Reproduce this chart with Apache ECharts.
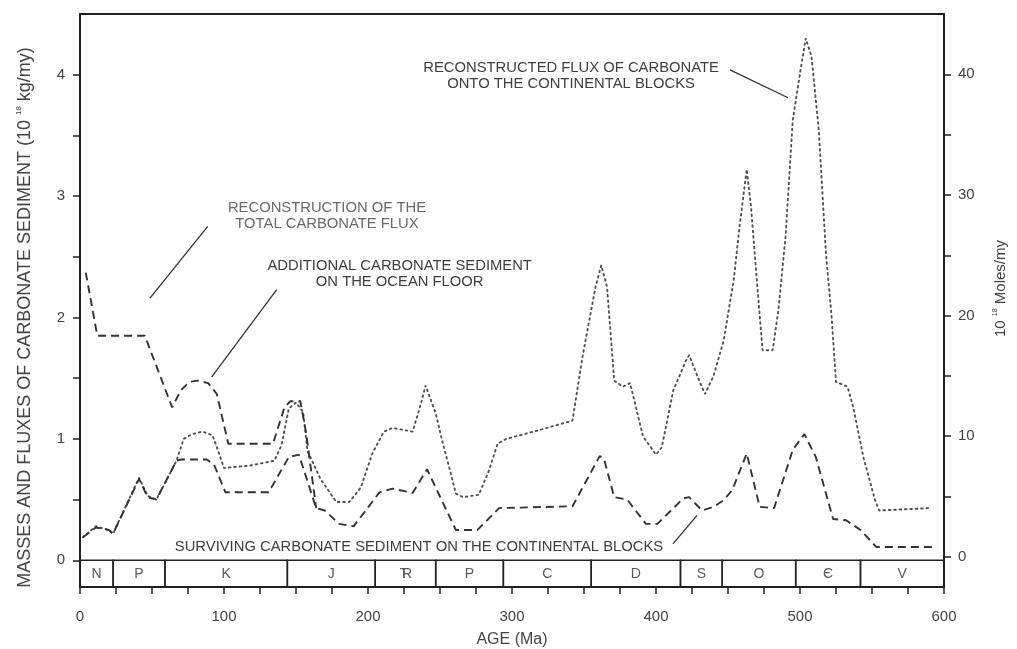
<!DOCTYPE html>
<html>
<head>
<meta charset="utf-8">
<script src="https://cdn.jsdelivr.net/npm/echarts@6/dist/echarts.min.js"></script>
<style>
  html, body { margin: 0; padding: 0; background: #fff; }
  #chart { width: 1017px; height: 649px; }
</style>
</head>
<body>
<div id="chart"></div>
<script>
// Age in Ma, values in 10^18 kg/my
const survivingOnContinents = [
  [2,0.19],[11,0.27],[20,0.25],[23,0.22],[41,0.67],[47,0.52],[53,0.50],[67,0.82],[70,0.83],
  [88,0.83],[93,0.79],[101,0.56],[131,0.56],[145,0.85],[152,0.87],[164,0.43],[170,0.41],
  [180,0.30],[190,0.28],[208,0.56],[217,0.59],[231,0.555],[241,0.75],[261,0.25],[276,0.25],
  [291,0.43],[342,0.445],[361,0.86],[364,0.83],[371,0.52],[380,0.50],[393,0.30],[401,0.30],
  [419,0.51],[423,0.52],[432,0.41],[440,0.44],[447,0.495],[453,0.58],[463,0.88],[472,0.44],
  [482,0.43],[495,0.91],[503,1.04],[511,0.85],[523,0.34],[532,0.33],[542,0.25],[553,0.11],[595,0.11]
];

const totalCarbonateFlux = [
  [4,2.37],[12,1.85],[45,1.85],[64,1.26],[70,1.40],[76,1.47],[82,1.48],[89,1.46],[95,1.37],
  [103,0.96],[134,0.96],[142,1.26],[146,1.31],[153,1.31],[157,1.05],[164,0.43]
];

const continentalFlux = [
  [2,0.19],[11,0.28],[20,0.25],[23,0.22],[41,0.68],[47,0.53],[53,0.50],[67,0.82],[72,1.00],
  [78,1.04],[85,1.06],[92,1.03],[96,0.90],[100,0.76],[118,0.78],[135,0.82],[140,0.95],
  [145,1.25],[150,1.30],[155,1.22],[158,0.90],[167,0.67],[178,0.48],[187,0.48],[195,0.60],
  [203,0.88],[211,1.06],[217,1.09],[231,1.06],[237,1.30],[240,1.44],[247,1.21],[252,0.96],
  [257,0.74],[261,0.55],[266,0.52],[277,0.54],[284,0.74],[290,0.96],[296,1.00],[315,1.06],
  [342,1.15],[349,1.68],[358,2.25],[362,2.43],[366,2.25],[371,1.48],[377,1.43],[382,1.46],
  [391,1.02],[400,0.87],[404,0.93],[412,1.40],[421,1.65],[423,1.69],[430,1.48],[434,1.37],
  [440,1.52],[447,1.81],[454,2.31],[458,2.75],[463,3.22],[466,2.91],[470,2.31],[474,1.73],
  [481,1.73],[485,2.06],[490,2.67],[495,3.63],[500,4.01],[504,4.30],[508,4.15],[513,3.55],
  [518,2.53],[522,2.00],[525,1.47],[533,1.43],[537,1.26],[544,0.85],[552,0.50],[555,0.41],[590,0.43]
];

// Geological periods (Ma)
const periodNames = ['N','P','K','J','TR','P','C','D','S','O','Є','V'];
const periodStart = [0,23,59,144,205,247,294,355,417,446,497,542];
const periodEnd   = [23,59,144,205,247,294,355,417,446,497,542,600];

// Axis ticks
const leftTicks = [0,0.5,1,1.5,2,2.5,3,3.5,4];
const leftLabels = [0,1,2,3,4];
const rightTicks = [0,5,10,15,20,25,30,35,40];
const rightLabels = [0,10,20,30,40];

const FONT = '"Liberation Sans", Arial, Helvetica, sans-serif';
const LEFT_MIN = -0.22, LEFT_MAX = 4.5;

// Annotation layout, in data coordinates (age, value)
const notes = [
  { text: 'RECONSTRUCTED FLUX OF CARBONATE\nONTO THE CONTINENTAL BLOCKS', at: [341, 3.99],
    from: [451.4, 4.04], to: [491.7, 3.81], color: '#3e3e3e' },
  { text: 'RECONSTRUCTION OF THE\nTOTAL CARBONATE FLUX', at: [171.5, 2.84],
    from: [88.7, 2.75], to: [48.6, 2.16], color: '#6a6a6a' },
  { text: 'ADDITIONAL CARBONATE SEDIMENT\nON THE OCEAN FLOOR', at: [222, 2.36],
    from: [136.6, 2.23], to: [91.5, 1.51], color: '#3e3e3e' },
  { text: 'SURVIVING CARBONATE SEDIMENT ON THE CONTINENTAL BLOCKS', at: [235.4, 0.11],
    from: [411.8, 0.135], to: [428.5, 0.37], color: '#3e3e3e' }
];

const chart = echarts.init(document.getElementById('chart'), null, { renderer: 'canvas' });

const option = {
  backgroundColor: '#ffffff',
  animation: false,
  grid: {
    left: 80, right: 73, top: 14, bottom: 62,
    outerBoundsMode: 'none', containLabel: false,
    show: true, borderColor: '#222', borderWidth: 1.8, backgroundColor: 'transparent'
  },
  xAxis: {
    type: 'value', min: 0, max: 600, interval: 25,
    axisLine: { show: true, onZero: false, lineStyle: { color: '#222', width: 2 } },
    axisTick: { show: true, inside: false, length: 7, lineStyle: { color: '#222', width: 1.5 } },
    axisLabel: {
      formatter: v => (v % 100 === 0 ? String(v) : ''),
      fontSize: 15, color: '#444', margin: 22, fontFamily: FONT
    },
    splitLine: { show: false },
    name: 'AGE (Ma)', nameLocation: 'middle', nameGap: 45,
    nameTextStyle: { fontSize: 16, color: '#444', fontFamily: FONT }
  },
  yAxis: [
    {
      type: 'value', min: LEFT_MIN, max: LEFT_MAX, position: 'left',
      axisLine: { show: true, onZero: false, lineStyle: { color: '#222', width: 2 } },
      axisTick: { show: true, length: 7, customValues: leftTicks, lineStyle: { color: '#222', width: 1.5 } },
      axisLabel: { customValues: leftLabels, fontSize: 15, color: '#444', margin: 15, fontFamily: FONT },
      splitLine: { show: false },
      name: '{a|MASSES AND FLUXES OF CARBONATE SEDIMENT (10 }{s|18}{a| kg/my)}',
      nameLocation: 'middle', nameGap: 45,
      nameTextStyle: {
        color: '#444', fontFamily: FONT, padding: [0, 34, 0, 0],
        rich: {
          a: { fontSize: 18, color: '#444', fontFamily: FONT, lineHeight: 20 },
          s: { fontSize: 8, color: '#444', fontFamily: FONT, verticalAlign: 'top', lineHeight: 20 }
        }
      }
    },
    {
      type: 'value', min: -2.5, max: 45, position: 'right',
      axisLine: { show: true, onZero: false, lineStyle: { color: '#222', width: 2 } },
      axisTick: { show: true, length: 7, customValues: rightTicks, lineStyle: { color: '#222', width: 1.5 } },
      axisLabel: { customValues: rightLabels, fontSize: 15, color: '#444', margin: 14, fontFamily: FONT },
      splitLine: { show: false },
      name: '{a|10 }{s|18}{a| Moles/my}',
      nameLocation: 'middle', nameGap: 48,
      nameTextStyle: {
        color: '#444', fontFamily: FONT, padding: [0, 0, 0, 24],
        rich: {
          a: { fontSize: 15, color: '#444', fontFamily: FONT, lineHeight: 18 },
          s: { fontSize: 7, color: '#444', fontFamily: FONT, verticalAlign: 'top', lineHeight: 18 }
        }
      }
    }
  ],
  series: [
    {
      name: 'Reconstructed flux onto the continental blocks',
      type: 'line', data: continentalFlux, symbol: 'none', z: 3,
      lineStyle: { color: '#505050', width: 1.9, type: [1.6, 3.8], cap: 'round' }
    },
    {
      name: 'Total carbonate flux',
      type: 'line', data: totalCarbonateFlux, symbol: 'none', z: 4,
      lineStyle: { color: '#333', width: 1.9, type: [8, 5] }
    },
    {
      name: 'Surviving carbonate sediment on the continental blocks',
      type: 'line', data: survivingOnContinents, symbol: 'none', z: 4,
      lineStyle: { color: '#333', width: 1.9, type: [8, 5] }
    },
    {
      name: 'Periods',
      type: 'custom', z: 5, silent: true,
      data: periodStart.map((s, i) => [s, periodEnd[i]]),
      encode: { x: [0, 1] },
      renderItem(params, api) {
        const i = params.dataIndex;
        const a = api.coord([api.value(0), 0]);
        const b = api.coord([api.value(1), LEFT_MIN]);
        const cx = (a[0] + b[0]) / 2, cy = (a[1] + b[1]) / 2;
        const textStyle = (t, x) => ({
          type: 'text', x: x, y: cy,
          style: { text: t, fill: '#5a5a5a', fontSize: 14, fontFamily: FONT, align: 'center', verticalAlign: 'middle' }
        });
        const label = periodNames[i];
        const children = [{
          type: 'rect',
          shape: { x: a[0], y: a[1], width: b[0] - a[0], height: b[1] - a[1] },
          style: { fill: 'none', stroke: '#222', lineWidth: 1.5 }
        }];
        if (label === 'TR') {
          children.push(textStyle('T', cx - 1.5), textStyle('R', cx + 1.5));
        } else {
          children.push(textStyle(label, cx));
        }
        return { type: 'group', children };
      }
    },
    {
      name: 'Notes',
      type: 'custom', z: 6, silent: true,
      data: notes.map(n => [n.at[0], n.at[1], n.from[0], n.from[1], n.to[0], n.to[1]]),
      encode: { x: [0, 2, 4], y: [1, 3, 5] },
      renderItem(params, api) {
        const n = notes[params.dataIndex];
        const p = api.coord([api.value(0), api.value(1)]);
        const f = api.coord([api.value(2), api.value(3)]);
        const t = api.coord([api.value(4), api.value(5)]);
        return {
          type: 'group',
          children: [
            { type: 'line', shape: { x1: f[0], y1: f[1], x2: t[0], y2: t[1] },
              style: { stroke: '#333', lineWidth: 1.3 } },
            { type: 'text', x: p[0], y: p[1],
              style: { text: n.text, fill: n.color, fontSize: 14.8, fontFamily: FONT,
                       align: 'center', verticalAlign: 'middle', lineHeight: 16 } }
          ]
        };
      }
    }
  ]
};

chart.setOption(option);
</script>
</body>
</html>
